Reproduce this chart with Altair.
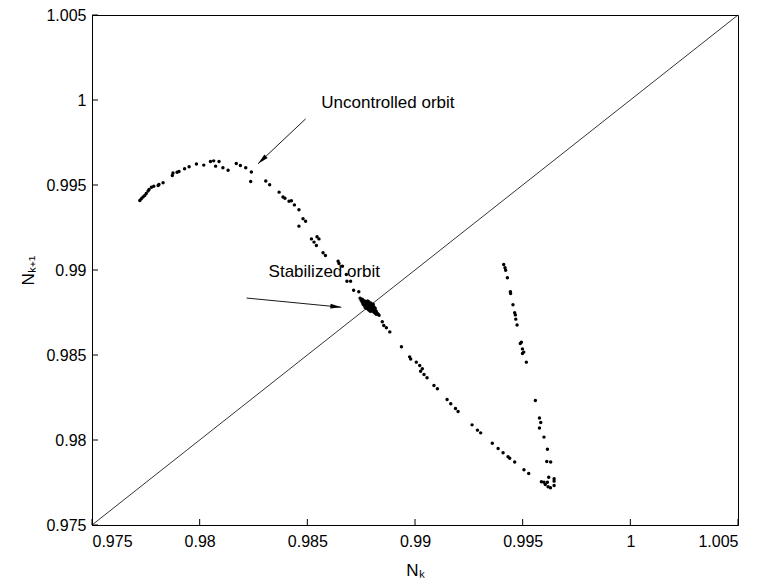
import math
import altair as alt
import pandas as pd

# ---- data ----
orbit_x = [0.97722, 0.97729, 0.97737, 0.97745, 0.97752, 0.97760, 0.97765, 0.97776, 0.97787, 0.97807,
           0.97811, 0.97830, 0.97873, 0.97876, 0.97895, 0.97904, 0.97930, 0.97951, 0.97985, 0.98019,
           0.98050, 0.98065, 0.98074, 0.98090, 0.98108, 0.98132, 0.98170, 0.98189, 0.98214, 0.98240,
           0.98237, 0.98307, 0.98325, 0.98369, 0.98387, 0.98396, 0.98415, 0.98426, 0.98440, 0.98461,
           0.98480, 0.98492, 0.98461, 0.98519, 0.98531, 0.98545, 0.98554, 0.98542, 0.98573, 0.98584,
           0.98643, 0.98647, 0.98663, 0.98681, 0.98684, 0.98701, 0.98715, 0.98739, 0.98848, 0.98855,
           0.98867, 0.98883, 0.98937, 0.98975, 0.98980, 0.99006, 0.99022, 0.99034, 0.99026, 0.99042,
           0.99056, 0.99088, 0.99104, 0.99149, 0.99166, 0.99188, 0.99200, 0.99265, 0.99290, 0.99305,
           0.99359, 0.99386, 0.99409, 0.99432, 0.99440, 0.99463, 0.99506, 0.99528, 0.99587, 0.99599,
           0.99615, 0.99605, 0.99618, 0.99629, 0.99646, 0.99646, 0.99646, 0.99621, 0.99612, 0.99630,
           0.99615, 0.99599, 0.99578, 0.99584, 0.99578, 0.99559, 0.99517, 0.99505, 0.99499, 0.99489,
           0.99494, 0.99412, 0.99418, 0.99421, 0.99429, 0.99443, 0.99444, 0.99455, 0.99463, 0.99466,
           0.99468, 0.99474, 0.99499]
orbit_y = [0.99409, 0.99419, 0.99430, 0.99438, 0.99450, 0.99464, 0.99473, 0.99487, 0.99493, 0.99497,
           0.99503, 0.99513, 0.99556, 0.99571, 0.99575, 0.99579, 0.99595, 0.99607, 0.99624, 0.99617,
           0.99638, 0.99642, 0.99611, 0.99638, 0.99601, 0.99587, 0.99626, 0.99615, 0.99601, 0.99577,
           0.99520, 0.99524, 0.99501, 0.99458, 0.99430, 0.99422, 0.99405, 0.99407, 0.99383, 0.99354,
           0.99301, 0.99287, 0.99258, 0.99183, 0.99164, 0.99195, 0.99183, 0.99144, 0.99101, 0.99085,
           0.99052, 0.99038, 0.99022, 0.98973, 0.98934, 0.98934, 0.98881, 0.98872, 0.98695, 0.98673,
           0.98660, 0.98636, 0.98548, 0.98489, 0.98477, 0.98458, 0.98438, 0.98419, 0.98405, 0.98385,
           0.98366, 0.98321, 0.98301, 0.98238, 0.98213, 0.98185, 0.98168, 0.98089, 0.98058, 0.98042,
           0.97981, 0.97950, 0.97925, 0.97901, 0.97893, 0.97870, 0.97825, 0.97803, 0.97754, 0.97752,
           0.97752, 0.97738, 0.97725, 0.97719, 0.97732, 0.97758, 0.97772, 0.97781, 0.97874, 0.97870,
           0.97946, 0.98017, 0.98070, 0.98103, 0.98130, 0.98232, 0.98458, 0.98517, 0.98536, 0.98568,
           0.98575, 0.99032, 0.99013, 0.98999, 0.98954, 0.98872, 0.98862, 0.98795, 0.98748, 0.98736,
           0.98711, 0.98677, 0.98509]

stab_x = [0.98745, 0.98750, 0.98755, 0.98759, 0.98759, 0.98764, 0.98764, 0.98768, 0.98768, 0.98773,
          0.98773, 0.98778, 0.98778, 0.98782, 0.98782, 0.98787, 0.98787, 0.98787, 0.98792, 0.98792,
          0.98792, 0.98796, 0.98796, 0.98801, 0.98801, 0.98806, 0.98806, 0.98810, 0.98810, 0.98815,
          0.98815, 0.98820, 0.98824, 0.98829, 0.98833, 0.98755, 0.98778, 0.98796, 0.98820, 0.98806,
          0.98768, 0.98787, 0.98796, 0.98806, 0.98773, 0.98782, 0.98792, 0.98801, 0.98815, 0.98759,
          0.98782, 0.98810, 0.98764, 0.98787, 0.98796]
stab_y = [0.98834, 0.98822, 0.98828, 0.98811, 0.98822, 0.98816, 0.98805, 0.98816, 0.98799, 0.98811,
          0.98793, 0.98805, 0.98787, 0.98799, 0.98781, 0.98787, 0.98793, 0.98775, 0.98793, 0.98781,
          0.98769, 0.98787, 0.98775, 0.98781, 0.98763, 0.98775, 0.98758, 0.98769, 0.98752, 0.98763,
          0.98746, 0.98758, 0.98746, 0.98740, 0.98734, 0.98811, 0.98816, 0.98758, 0.98740, 0.98787,
          0.98781, 0.98811, 0.98805, 0.98799, 0.98775, 0.98769, 0.98758, 0.98793, 0.98775, 0.98799,
          0.98816, 0.98781, 0.98793, 0.98763, 0.98799]

tick_values = [0.975, 0.98, 0.985, 0.99, 0.995, 1.0, 1.005]
diag_values = [0.975, 1.005]

note_text = ["Uncontrolled orbit", "Stabilized orbit"]
note_x = [0.98565, 0.98320]
note_y = [0.99985, 0.98991]
arrow_x0 = [0.98492, 0.98218]
arrow_y0 = [0.99889, 0.98835]
arrow_x1 = [0.98271, 0.98658]
arrow_y1 = [0.99625, 0.98781]

# ---- layout ----
W, H = 646, 510
DOM = [0.975, 1.005]
FONT = "Liberation Sans"

# arrowhead orientation from the pixel direction of each arrow
px_per_x = W / (DOM[1] - DOM[0])
px_per_y = H / (DOM[1] - DOM[0])
angles = []
for a, b, c, d in zip(arrow_x0, arrow_y0, arrow_x1, arrow_y1):
    dx = (c - a) * px_per_x
    dy = -(d - b) * px_per_y
    ang = math.degrees(math.atan2(dx, -dy))
    angles.append(ang % 360)

orbit = pd.DataFrame({"x": orbit_x, "y": orbit_y})
stab = pd.DataFrame({"x": stab_x, "y": stab_y})
diag = pd.DataFrame({"x": diag_values, "y": diag_values})
notes = pd.DataFrame({"t": note_text, "x": note_x, "y": note_y})
arrows = pd.DataFrame({"x0": arrow_x0, "y0": arrow_y0, "x1": arrow_x1, "y1": arrow_y1, "ang": angles})
ticks = pd.DataFrame({"v": tick_values})

xscale = alt.Scale(domain=DOM, nice=False, zero=False)
yscale = alt.Scale(domain=DOM, nice=False, zero=False)

xaxis = alt.Axis(values=tick_values, labelExpr="format(datum.value, '~g')", ticks=False,
                 grid=False, title="Nₖ", labelPadding=8, titlePadding=13)
yaxis = alt.Axis(values=tick_values, labelExpr="format(datum.value, '~g')", ticks=False,
                 grid=False, title="Nₖ₊₁", labelPadding=6, titlePadding=8)

base_x = alt.X("x:Q", scale=xscale, axis=xaxis)
base_y = alt.Y("y:Q", scale=yscale, axis=yaxis)

diag_layer = alt.Chart(diag).mark_line(color="black", strokeWidth=0.8).encode(x=base_x, y=base_y)

orbit_layer = alt.Chart(orbit).mark_circle(size=12, color="black", opacity=1).encode(
    x=alt.X("x:Q", scale=xscale), y=alt.Y("y:Q", scale=yscale))
stab_layer = alt.Chart(stab).mark_circle(size=12, color="black", opacity=1).encode(
    x=alt.X("x:Q", scale=xscale), y=alt.Y("y:Q", scale=yscale))

arrow_lines = alt.Chart(arrows).mark_rule(color="black", strokeWidth=0.9).encode(
    x=alt.X("x0:Q", scale=xscale), y=alt.Y("y0:Q", scale=yscale), x2="x1:Q", y2="y1:Q")
arrow_heads = alt.Chart(arrows).mark_point(
    shape="M0,0 L0.42,2 L-0.42,2 Z", filled=True, color="black", opacity=1, size=121, strokeWidth=0
).encode(x=alt.X("x1:Q", scale=xscale), y=alt.Y("y1:Q", scale=yscale),
         angle=alt.Angle("ang:Q", scale=None))

note_layer = alt.Chart(notes).mark_text(
    align="left", baseline="middle", font=FONT, fontSize=17, color="black"
).encode(x=alt.X("x:Q", scale=xscale), y=alt.Y("y:Q", scale=yscale), text="t:N")

xticks = alt.Chart(ticks).mark_rule(color="black", strokeWidth=1).encode(
    x=alt.X("v:Q", scale=xscale), y=alt.value(H), y2=alt.value(H - 6))
yticks = alt.Chart(ticks).mark_rule(color="black", strokeWidth=1).encode(
    y=alt.Y("v:Q", scale=yscale), x=alt.value(0), x2=alt.value(6))

chart = alt.layer(
    diag_layer, orbit_layer, stab_layer, arrow_lines, arrow_heads, note_layer, xticks, yticks
).properties(
    width=W, height=H,
    autosize=alt.AutoSizeParams(type="none"),
    padding={"left": 92, "top": 15, "right": 27, "bottom": 62},
    background="white",
).configure_view(
    stroke="black", strokeWidth=1
).configure_axis(
    domainColor="black", domainWidth=1, labelColor="black", titleColor="black",
    labelFont=FONT, titleFont=FONT, labelFontSize=16, titleFontSize=17,
    titleFontWeight="normal"
)

chart.save("out.html", embed_options={"renderer": "svg", "actions": False})
